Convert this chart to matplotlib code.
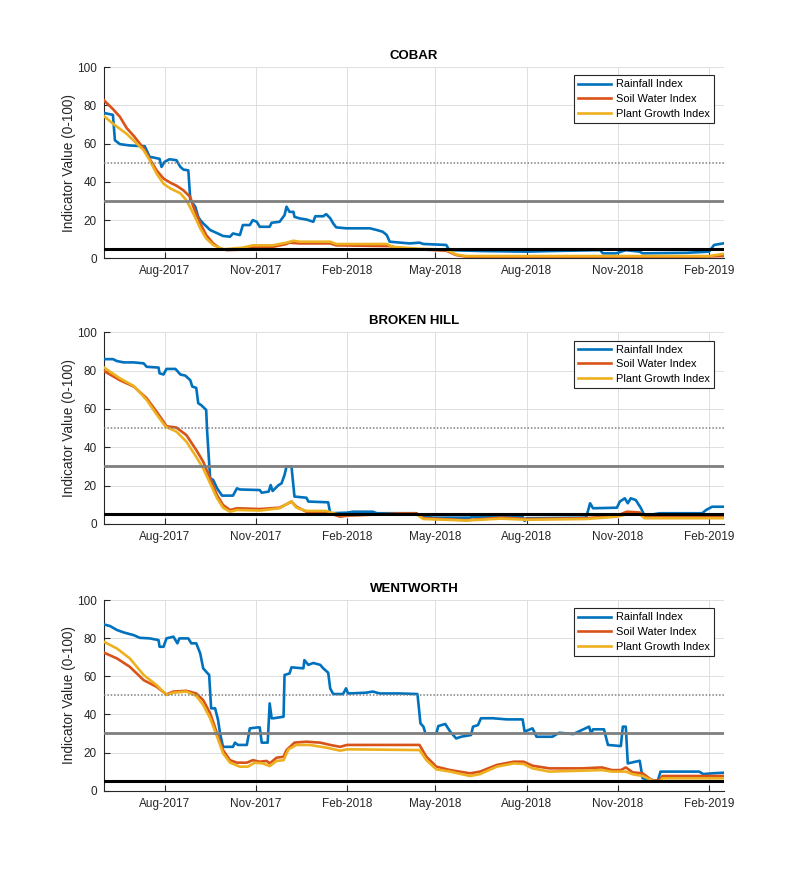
import numpy as np
import matplotlib
matplotlib.use("Agg")
import matplotlib.pyplot as plt
import matplotlib.dates as mdates

plt.rcParams['font.family'] = ['Liberation Sans', 'DejaVu Sans']

# day offsets from 2017-06-01
start = np.datetime64('2017-06-01')
x_end = 625

stations = ['COBAR', 'BROKEN HILL', 'WENTWORTH']

# ---- COBAR
cobar_rain_day = [0, 9, 11, 16, 26, 41, 43, 46, 50, 56, 58, 61, 66, 73, 77, 80, 85, 87, 92, 95, 97, 100,
                  107, 113, 120, 127, 130, 137, 140, 147, 150, 154, 157, 167, 169, 177, 182, 184, 187, 191,
                  192, 197, 204, 211, 213, 221, 224, 228, 231, 234, 244, 268, 275, 281, 285, 288, 308, 318,
                  322, 345, 348, 382, 426, 449, 500, 503, 516, 526, 540, 543, 587, 610, 615, 624]
cobar_rain_val = [76, 75, 61.7, 59.7, 59, 58.6, 56.5, 53, 52.7, 52, 47.8, 50.4, 51.8, 51.3, 47.8, 46.4, 46,
                  30.4, 27, 21.7, 20, 18.3, 14.8, 13.4, 11.7, 11.3, 13, 12.2, 17.4, 17.4, 20, 19.1, 16.5,
                  16.5, 18.6, 19.1, 22.6, 27, 24.3, 24.3, 21.7, 20.9, 20.3, 19.1, 22, 22, 23.1, 21, 18.3,
                  16.2, 15.7, 15.7, 14.8, 13.9, 12.2, 8.7, 7.8, 8.2, 7.5, 7, 4.3, 3.8, 3.5, 3.8, 4.3, 2.6,
                  2.6, 4.3, 3.5, 2.6, 2.9, 3.5, 7, 7.8]
cobar_soil_day = [0, 9, 16, 23, 30, 40, 46, 53, 60, 67, 73, 80, 87, 90, 97, 103, 110, 117, 124, 140, 150,
                  170, 184, 187, 197, 228, 234, 288, 298, 318, 345, 355, 365, 600, 624]
cobar_soil_val = [82.6, 78, 74, 68, 64, 57.4, 52, 46, 41.7, 39.5, 38, 35.6, 32, 27, 18.3, 12.2, 7.8, 5.2,
                  4.3, 4.6, 6, 6, 7.5, 8.2, 7.8, 7.8, 6.8, 6.4, 5.2, 4.7, 4, 1.7, 0.9, 0.9, 1.2]
cobar_plant_day = [0, 9, 23, 33, 40, 46, 53, 60, 67, 77, 83, 90, 97, 103, 110, 120, 140, 150, 170, 184, 191,
                   197, 228, 234, 285, 291, 318, 345, 355, 365, 610, 624]
cobar_plant_val = [74.3, 70.4, 65, 60, 56.5, 51.3, 44.3, 39, 36.5, 34, 30.4, 23.5, 15.7, 10.4, 7, 4.7, 5.6,
                   6.8, 6.8, 8.2, 9.2, 8.7, 8.7, 7.5, 7.5, 6, 5, 4.5, 2, 1.2, 1.2, 2.3]

# ---- BROKEN HILL
bh_rain_day = [0, 9, 13, 20, 30, 40, 43, 55, 56, 60, 63, 72, 77, 82, 87, 89, 93, 95, 98, 103, 104, 107, 110,
               114, 119, 130, 134, 137, 157, 159, 166, 168, 170, 176, 179, 182, 184, 189, 192, 204, 206, 226,
               228, 245, 251, 271, 275, 315, 319, 332, 369, 372, 422, 424, 426, 486, 490, 493, 517, 520, 525,
               528, 531, 536, 541, 545, 560, 603, 607, 613, 624]
bh_rain_val = [86, 86, 85, 84.3, 84.3, 83.8, 82, 81.6, 78.6, 78, 80.9, 80.9, 78, 77.4, 75, 71.7, 71, 63, 62,
               59.5, 48, 23.8, 23, 18.6, 14.8, 14.8, 18.6, 18, 17.7, 16.3, 16.9, 20.3, 17.2, 20.3, 21.2, 25.6,
               30, 30, 14.3, 13.7, 11.7, 11.3, 5.6, 5.9, 6.4, 6.4, 5.6, 5.6, 3.8, 3.3, 3.3, 3.8, 3.8, 1.6, 3,
               3.3, 10.8, 8.2, 8.5, 11.7, 13.4, 10.8, 13.4, 12.5, 8.5, 4.3, 5.6, 5.6, 7.3, 9, 9]
bh_soil_day = [0, 16, 30, 43, 53, 60, 63, 73, 83, 93, 100, 107, 114, 120, 127, 134, 157, 177, 184, 189, 194,
               204, 224, 231, 238, 245, 298, 315, 322, 365, 400, 426, 486, 517, 527, 540, 545, 624]
bh_soil_val = [79.8, 75, 71.7, 65.6, 58.6, 53.4, 51, 50.3, 46.4, 38.6, 32.5, 23.8, 15, 9.9, 7.3, 8.2, 7.8,
               8.5, 10.3, 11.7, 9, 6.4, 6.4, 5, 3.8, 4.3, 5.5, 5.5, 3, 2, 3.3, 2.6, 3, 4.3, 6.4, 6, 3.8, 3.8]
bh_plant_day = [0, 16, 30, 43, 53, 62, 73, 83, 93, 100, 107, 114, 120, 127, 134, 157, 177, 184, 189, 194,
                204, 224, 231, 238, 298, 315, 322, 365, 400, 426, 486, 517, 527, 540, 545, 624]
bh_plant_val = [81.6, 76, 72, 64.7, 57.2, 50.8, 48.2, 43, 35, 29, 21.2, 13.4, 8.5, 6.4, 7.3, 7, 8.2, 10.3,
                11.7, 8.5, 6.8, 6.8, 5.6, 4.7, 5, 5, 2.6, 1.8, 2.8, 2.2, 2.6, 3.8, 5, 5, 3, 3]

# ---- WENTWORTH
ww_rain_day = [0, 6, 13, 20, 30, 36, 46, 55, 56, 60, 63, 70, 74, 76, 85, 88, 93, 97, 100, 103, 106, 108, 112,
               115, 117, 120, 130, 132, 135, 144, 147, 155, 157, 159, 165, 167, 169, 171, 181, 182, 187, 189,
               201, 202, 206, 211, 218, 221, 226, 228, 231, 241, 244, 246, 264, 271, 278, 298, 316, 319, 322,
               324, 335, 337, 344, 349, 355, 360, 370, 372, 377, 380, 392, 406, 422, 424, 432, 436, 452, 459,
               473, 489, 491, 493, 504, 508, 521, 523, 526, 528, 540, 543, 553, 558, 561, 566, 600, 604, 613,
               624]
ww_rain_val = [87.2, 86.4, 84.3, 83, 81.6, 80.2, 79.9, 79, 75.5, 75.5, 79.9, 80.8, 77.3, 79.9, 79.9, 77.3,
               77.3, 72, 64.2, 62.4, 60.7, 43.2, 43.2, 37, 30, 23, 23, 25.2, 24, 24, 32.7, 33.2, 33.2, 25.2,
               25.2, 45.8, 38, 38, 38.8, 60.7, 61.5, 64.7, 64.2, 68.5, 66, 67, 66, 64.2, 61.9, 53.7, 50.7,
               50.7, 53.7, 51, 51.4, 52, 51, 51, 50.7, 35.3, 33.6, 30, 30, 33.9, 35, 31, 27.4, 28.3, 29.2,
               33.6, 34.4, 38, 38, 37.4, 37.4, 31, 32.7, 28.3, 28.3, 30.4, 29.7, 33.6, 30, 32.2, 32.2, 24,
               23.4, 33.6, 33.6, 14.3, 15.7, 6.5, 5.6, 4.7, 10, 10, 10, 8.7, 9.1, 9.4]
ww_soil_day = [0, 13, 26, 40, 53, 63, 70, 83, 93, 100, 107, 114, 120, 127, 134, 144, 150, 157, 164, 167, 174,
               181, 184, 192, 204, 218, 228, 238, 245, 318, 325, 335, 349, 369, 379, 396, 413, 423, 432, 449,
               482, 502, 512, 521, 526, 533, 543, 553, 560, 563, 624]
ww_soil_val = [72.4, 69.4, 65, 58, 54.5, 50.5, 52, 52.4, 51, 47.5, 40.6, 30, 21.3, 16, 14.7, 14.7, 16, 15.2,
               15.6, 14.3, 17.3, 17.8, 21.3, 25.2, 25.7, 25.2, 24, 23, 24, 24, 17.8, 12.6, 10.8, 9.1, 10,
               13.5, 15.2, 15.2, 13.1, 11.7, 11.7, 12.2, 10.8, 10.8, 12.2, 9.6, 9.1, 5.2, 5.6, 7.7, 7.7]
ww_plant_day = [0, 13, 26, 40, 53, 63, 70, 83, 93, 100, 107, 114, 120, 127, 137, 145, 152, 160, 167, 174,
                181, 186, 194, 207, 224, 238, 245, 318, 325, 335, 349, 369, 379, 396, 413, 423, 432, 449, 482,
                502, 512, 526, 533, 543, 553, 560, 563, 624]
ww_plant_val = [78.1, 74.6, 69.4, 60.7, 55.4, 50.2, 51.4, 52, 49.7, 45, 38, 28.3, 19.6, 14.7, 12.6, 12.6,
                14.7, 14.3, 12.9, 15.6, 16, 21.7, 24, 24, 22.6, 21, 21.7, 21.3, 16, 11.2, 10, 7.7, 8.7, 12.6,
                14.3, 14, 11.7, 10, 10.5, 10.8, 10, 10, 8.6, 7.7, 5.2, 4.7, 6.5, 6.5]

series = [
    [(cobar_rain_day, cobar_rain_val), (cobar_soil_day, cobar_soil_val), (cobar_plant_day, cobar_plant_val)],
    [(bh_rain_day, bh_rain_val), (bh_soil_day, bh_soil_val), (bh_plant_day, bh_plant_val)],
    [(ww_rain_day, ww_rain_val), (ww_soil_day, ww_soil_val), (ww_plant_day, ww_plant_val)],
]
labels = ['Rainfall Index', 'Soil Water Index', 'Plant Growth Index']
colors = ['#0072BD', '#D95319', '#EDB120']
thresholds = [50, 30, 5]

fig = plt.figure(figsize=(8, 8.89), dpi=100)
boxes = [(0.13, 0.7094, 0.775, 0.2152), (0.13, 0.4106, 0.775, 0.2156), (0.13, 0.1106, 0.775, 0.2144)]
axcol = '#262626'

def to_dates(days):
    return start + np.array(days).astype('timedelta64[D]')

for k, name in enumerate(stations):
    ax = fig.add_axes(boxes[k])
    for (d, v), lab, c in zip(series[k], labels, colors):
        ax.plot(to_dates(d), v, color=c, lw=1.9, label=lab, zorder=3)
    ax.axhline(thresholds[0], color='#7f7f7f', lw=1.1, ls=(0, (1, 1.2)), zorder=4)
    ax.axhline(thresholds[1], color='#7f7f7f', lw=2.0, zorder=4)
    ax.axhline(thresholds[2], color='black', lw=2.2, zorder=4)

    ax.set_xlim(start, start + np.timedelta64(x_end, 'D'))
    ax.set_ylim(0, 100)
    ax.set_yticks([0, 20, 40, 60, 80, 100])
    ax.xaxis.set_major_locator(mdates.MonthLocator(bymonth=[2, 5, 8, 11]))
    ax.xaxis.set_major_formatter(mdates.DateFormatter('%b-%Y'))
    ax.grid(True, color='#dedede', lw=0.7)
    ax.set_axisbelow(True)
    for s in ['top', 'right']:
        ax.spines[s].set_visible(False)
    for s in ['left', 'bottom']:
        ax.spines[s].set_color(axcol)
        ax.spines[s].set_linewidth(0.8)
    ax.tick_params(direction='in', length=4, width=0.8, colors=axcol, labelsize=8.5, pad=5)
    ax.set_ylabel('Indicator Value (0-100)', fontsize=9.8, color=axcol, labelpad=0.5)
    ax.set_title(name, fontsize=9.5, fontweight='bold', color='black', pad=6)
    leg = ax.legend(loc='upper right', bbox_to_anchor=(0.984, 0.957), fontsize=7.9, frameon=True,
                    fancybox=False, framealpha=1, edgecolor=axcol, handlelength=3.0,
                    labelspacing=0.42, borderpad=0.38, handletextpad=0.45, borderaxespad=0)
    leg.get_frame().set_linewidth(0.8)

fig.savefig('out.png', dpi=100)
